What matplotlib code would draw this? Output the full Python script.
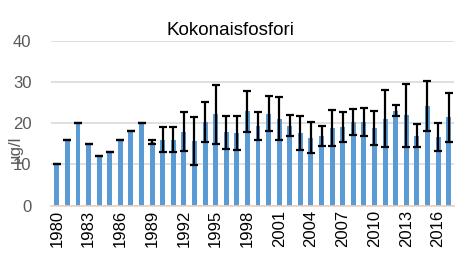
import matplotlib
matplotlib.use('Agg')
import matplotlib.pyplot as plt

# Total phosphorus, yearly mean and error (µg/l)
years = list(range(1980, 2018))
means = [10, 16, 20, 15, 12, 13, 16, 18, 20, 15.5,
         16, 16, 17.9, 15.6, 20.2, 22.2, 17.8, 17.7, 22.85, 19.3,
         22.35, 21.1, 19.35, 17.6, 16.5, 16.8, 18.8, 19.05, 20.3, 20.35,
         18.9, 21.1, 23.0, 21.9, 17.0, 24.2, 16.6, 21.4]
errors = [0, 0, 0, 0, 0, 0, 0, 0, 0, 0.45,
          3, 3, 4.7, 5.85, 4.85, 7.15, 4.0, 4.1, 5.05, 3.3,
          4.15, 5.15, 2.55, 4.05, 3.7, 2.4, 4.3, 3.65, 3.2, 3.35,
          4.15, 6.9, 1.3, 7.7, 2.8, 6.0, 3.4, 6.0]
tick_years = years[::3]

plt.rcParams['font.family'] = ['Liberation Sans', 'DejaVu Sans']

fig = plt.figure(figsize=(4.61, 2.75), dpi=100)
ax = fig.add_axes([0.1106, 0.252, 0.874, 0.600])

pos = list(range(len(years)))
ax.bar(pos, means, width=0.47, color='#5B9BD5', zorder=2)
ax.errorbar(pos, means, yerr=errors, fmt='none', ecolor='black',
            elinewidth=1.6, capsize=3.2, capthick=1.6, zorder=3)

ax.set_xlim(-0.55, len(years) - 0.5)
ax.set_ylim(0, 40)
ax.set_yticks([0, 10, 20, 30, 40])
ax.yaxis.grid(True, color='#D9D9D9', linewidth=1.2, zorder=0)
ax.set_axisbelow(True)

ax.set_xticks([years.index(y) for y in tick_years])
ax.set_xticklabels([str(y) for y in tick_years], rotation=90, fontsize=12)
ax.tick_params(axis='y', labelsize=12, labelcolor='#595959', length=0, pad=14)
ax.tick_params(axis='x', length=0, pad=3)

for s in ['top', 'right', 'left']:
    ax.spines[s].set_visible(False)
ax.spines['bottom'].set_color('#EBD2BE')
ax.spines['bottom'].set_linewidth(1.2)

fig.text(0.5, 0.89, "Kokonaisfosfori", ha='center', va='center', fontsize=13.5)
fig.text(0.034, 0.458, "µg/l", rotation=90, ha='center', va='center',
         fontsize=12, color='#595959')

fig.savefig("out.png", dpi=100)
